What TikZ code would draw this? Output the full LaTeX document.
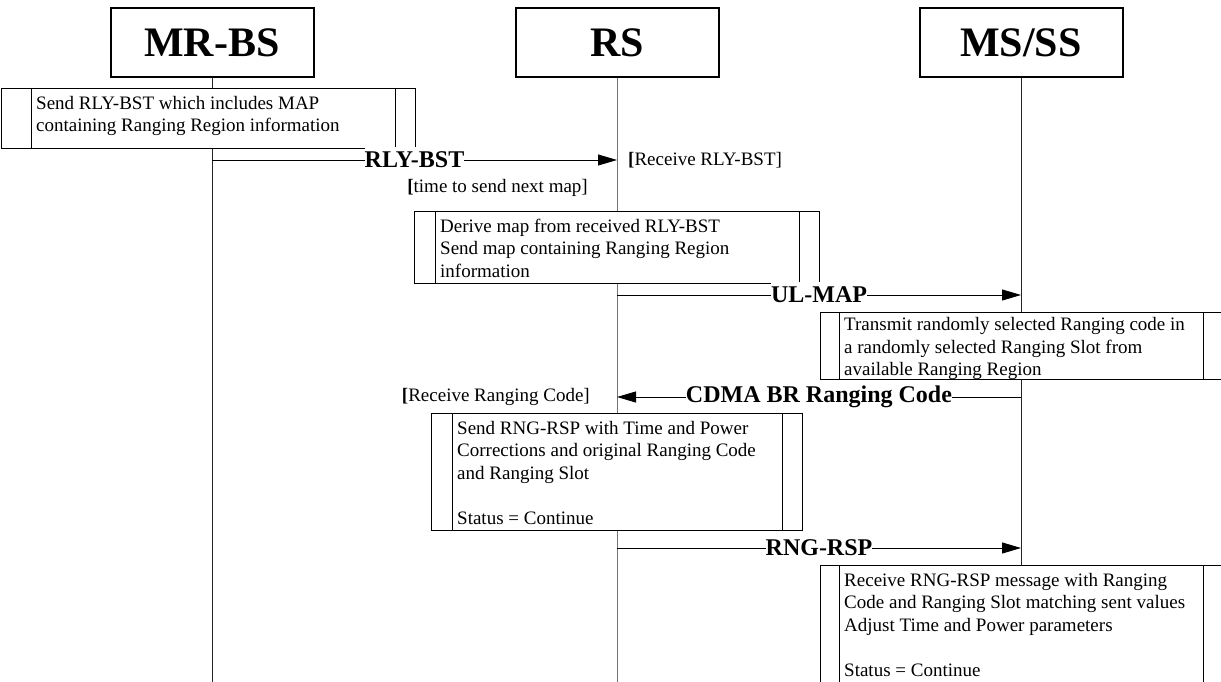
\documentclass[tikz,border=0pt]{standalone}
\usepackage{fontspec}
\setmainfont{Liberation Serif}
\usetikzlibrary{arrows.meta}
\tikzset{
  head/.style={draw,line width=2pt,fill=white,minimum width=203pt,minimum height=69pt,
    font=\fontsize{42}{48}\selectfont\bfseries,inner sep=0pt},
  life/.style={line width=0.9pt,draw=black!85},
  rslife/.style={line width=0.9pt,draw=black!55},
  actbox/.style={draw,line width=0.9pt,fill=white,inner sep=0pt,anchor=north west},
  boxline/.style={line width=0.9pt},
  acttext/.style={anchor=north west,inner sep=0pt,align=left,font=\fontsize{19}{22.5}\selectfont},
  msg/.style={line width=0.9pt,-{Triangle[length=19pt,width=11pt]}},
  msglabel/.style={fill=white,inner xsep=0pt,inner ysep=0pt,minimum height=26pt,
    font=\fontsize{24}{28}\selectfont\bfseries},
  note/.style={inner sep=0pt,font=\fontsize{19}{22}\selectfont}
}
% name, left, top, right, bottom, left inset, right inset, text top offset, text
\newcommand\myact[9]{%
  \node[actbox,minimum width={(#4-#2)*1pt},minimum height={(#5-#3)*1pt}] (#1) at (#2,#3) {};
  \draw[boxline] ([xshift=#6pt]#1.north west) -- ([xshift=#6pt]#1.south west);
  \draw[boxline] ([xshift=-#7pt]#1.north east) -- ([xshift=-#7pt]#1.south east);
  \node[acttext] (#1t) at ([xshift=#6pt+5pt,yshift=-#8pt]#1.north west) {\strut#9};
}
\begin{document}
\begin{tikzpicture}[x=1pt,y=-1pt]
\useasboundingbox[fill=white] (0,0) rectangle (1221,682);
% heads
\node[head] (mrbs) at (212,43) {MR-BS};
\node[head] (rs) at (617,43) {RS};
\node[head] (ms) at (1021,43) {MS/SS};
\coordinate (mrbsE) at (212,682);
\coordinate (rsE) at (617,682);
\coordinate (msE) at (1021,682);
\draw[life] (mrbs.south) -- (mrbsE);
\draw[rslife] (rs.south) -- (rsE);
\draw[life] (ms.south) -- (msE);
% action boxes
\myact{b1}{1}{88}{415}{148}{30}{20}{5.25}{Send RLY-BST which includes MAP\\containing Ranging Region information}
\myact{b2}{414}{211}{819}{283}{21}{20}{5.25}{Derive map from received RLY-BST\\Send map containing Ranging Region\\information}
\myact{b3}{820}{312}{1224}{379}{19}{21}{2.75}{Transmit randomly selected Ranging code in\\a randomly selected Ranging Slot from\\available Ranging Region}
\myact{b4}{431}{413}{802}{530}{21}{20}{5.25}{Send RNG-RSP with Time and Power\\Corrections and original Ranging Code\\and Ranging Slot\\[22.5pt]Status = Continue}
\myact{b5}{820}{565}{1224}{700}{19}{21}{5.25}{Receive RNG-RSP message with Ranging\\Code and Ranging Slot matching sent values\\Adjust Time and Power parameters\\[22.5pt]Status = Continue}
% messages
\coordinate (m1s) at (212,160); \coordinate (m1e) at (617,160);
\draw[msg] (m1s) -- (m1e);
\node[msglabel] (l1) at (414.5,160) {RLY-BST};
\coordinate (m2s) at (617,295); \coordinate (m2e) at (1021,295);
\draw[msg] (m2s) -- (m2e);
\node[msglabel] (l2) at (819,295) {UL-MAP};
\coordinate (m3s) at (1021,397); \coordinate (m3e) at (617,397);
\draw[msg] (m3s) -- (m3e);
\node[msglabel] (l3) at (819,397) {CDMA BR Ranging Code};
\coordinate (m4s) at (617,548); \coordinate (m4e) at (1021,548);
\draw[msg] (m4s) -- (m4e);
\node[msglabel] (l4) at (819,548) {RNG-RSP};
% notes
\node[note,anchor=west] (n1) at (628,160) {\textbf{[}Receive RLY-BST]};
\node[note,anchor=east] (n2) at (588,188) {\textbf{[}time to send next map]};
\node[note,anchor=east] (n3) at (590,397) {\textbf{[}Receive Ranging Code]};
\end{tikzpicture}
\end{document}
